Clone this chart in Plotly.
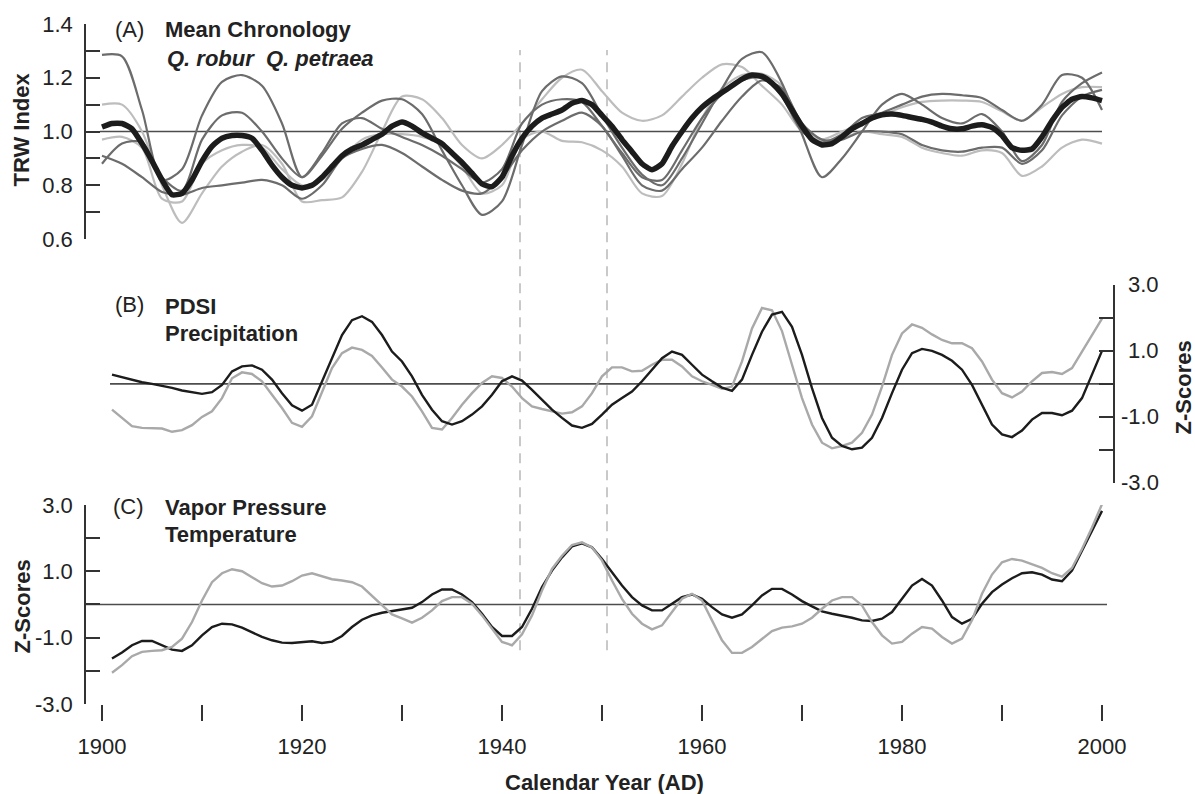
import plotly.graph_objects as go

# ---------------- DATA ----------------
years_mean = list(range(1900, 2001))
mean_chronology = [
    1.017, 1.03, 1.03, 1.01, 0.955, 0.89, 0.82, 0.765, 0.77, 0.82,
    0.89, 0.945, 0.975, 0.985, 0.985, 0.975, 0.93, 0.875, 0.83, 0.80,
    0.79, 0.80, 0.83, 0.87, 0.91, 0.935, 0.95, 0.97, 0.99, 1.02,
    1.035, 1.02, 0.995, 0.975, 0.955, 0.92, 0.885, 0.845, 0.805, 0.795,
    0.83, 0.91, 0.975, 1.02, 1.05, 1.065, 1.08, 1.105, 1.115, 1.10,
    1.06, 1.02, 0.97, 0.925, 0.88, 0.858, 0.88, 0.945, 1.0, 1.05,
    1.09, 1.12, 1.145, 1.17, 1.195, 1.21, 1.205, 1.18, 1.14, 1.08,
    1.02, 0.97, 0.95, 0.955, 0.98, 1.01, 1.03, 1.05, 1.062, 1.065,
    1.06, 1.052, 1.045, 1.035, 1.02, 1.01, 1.01, 1.02, 1.025, 1.015,
    0.985, 0.94, 0.93, 0.935, 0.98, 1.04, 1.09, 1.12, 1.13, 1.125,
    1.115,
]

years_sites = list(range(1900, 2001, 2))
site_dark_1 = [
    1.285, 1.28, 1.08, 0.82, 0.86, 1.06, 1.185, 1.21, 1.17, 1.03,
    0.83, 0.91, 1.01, 1.07, 1.115, 1.12, 1.065, 0.93, 0.80, 0.69,
    0.74, 0.95, 1.15, 1.205, 1.18, 1.06, 0.94, 0.84, 0.80, 0.90,
    1.03, 1.16, 1.27, 1.295, 1.18, 0.99, 0.83, 0.90, 1.0, 1.10,
    1.14, 1.10, 1.05, 1.03, 1.065, 1.0, 0.89, 0.95, 1.11, 1.18,
    1.22,
]
site_dark_2 = [
    0.88, 0.955, 0.96, 0.83, 0.78, 0.97, 1.06, 1.07, 1.0, 0.90,
    0.83, 0.92, 1.03, 1.05, 1.01, 0.98, 0.95, 0.91, 0.86, 0.81,
    0.86, 1.03, 1.10, 1.12, 1.11, 1.02, 0.92, 0.83, 0.82, 0.93,
    1.05, 1.14, 1.19, 1.20, 1.13, 1.0, 0.96, 0.99, 1.05, 1.07,
    1.10, 1.13, 1.14, 1.135, 1.125, 1.08, 1.04, 1.10, 1.21, 1.20,
    1.08,
]
site_dark_3 = [
    0.91, 0.88, 0.83, 0.775, 0.765, 0.79, 0.80, 0.81, 0.82, 0.80,
    0.75, 0.80, 0.90, 0.935, 0.95, 0.92, 0.87, 0.82, 0.78, 0.77,
    0.83, 0.93, 1.0, 1.04, 1.07, 1.02, 0.91, 0.80, 0.78, 0.86,
    0.94, 1.04, 1.13, 1.19, 1.16, 1.03, 0.97, 0.97, 1.0, 1.0,
    0.99, 0.95, 0.93, 0.925, 0.94, 0.94, 0.88, 0.93, 1.06, 1.13,
    1.155,
]
site_light_1 = [
    1.10, 1.10, 1.0, 0.80, 0.66, 0.77, 0.87, 0.925, 0.95, 0.88,
    0.74, 0.745, 0.755, 0.85, 1.0, 1.13, 1.12, 1.05, 0.95, 0.90,
    0.95, 1.03, 1.12, 1.20, 1.23, 1.15, 1.07, 1.04, 1.06, 1.13,
    1.20, 1.25, 1.24, 1.17, 1.10, 1.0, 0.97, 1.0, 1.03, 1.06,
    1.09, 1.11, 1.115, 1.115, 1.11, 1.075, 1.04, 1.09, 1.14, 1.165,
    1.165,
]
site_light_2 = [
    0.97, 0.98, 0.94, 0.75, 0.74, 0.88, 0.93, 0.95, 0.94, 0.86,
    0.80, 0.82, 0.90, 0.97, 0.99, 0.99, 0.98, 0.95, 0.87, 0.77,
    0.80, 0.97, 1.0, 0.965, 0.96, 0.93, 0.87, 0.77, 0.76, 0.88,
    1.05, 1.16, 1.21, 1.215, 1.17, 1.02, 0.97, 0.975, 1.0, 0.99,
    0.98, 0.94, 0.92, 0.91, 0.93, 0.92, 0.835, 0.87, 0.94, 0.97,
    0.955,
]

years_clim = list(range(1901, 2001))
pdsi = [
    0.28, 0.2, 0.13, 0.05, 0.0, -0.05, -0.12, -0.2, -0.26, -0.3,
    -0.25, -0.03, 0.38, 0.53, 0.56, 0.43, 0.13, -0.28, -0.65, -0.81,
    -0.63, 0.08, 0.78, 1.48, 1.93, 2.05, 1.88, 1.48, 0.98, 0.68,
    0.23, -0.33, -0.78, -1.13, -1.23, -1.13, -0.93, -0.68, -0.33, 0.08,
    0.23, 0.1, -0.18, -0.48, -0.78, -1.03, -1.26, -1.33, -1.21, -0.93,
    -0.63, -0.43, -0.23, 0.08, 0.43, 0.78, 0.98, 0.88, 0.58, 0.28,
    0.08, -0.11, -0.21, 0.13, 0.88, 1.58, 2.1, 2.18, 1.73, 0.88,
    -0.13, -1.03, -1.63, -1.88, -1.98, -1.93, -1.63, -1.03, -0.28, 0.43,
    0.93, 1.06, 1.0, 0.88, 0.7, 0.43, -0.03, -0.63, -1.23, -1.53,
    -1.61, -1.41, -1.08, -0.88, -0.88, -0.95, -0.81, -0.43, 0.28, 1.0,
]
precipitation = [
    -0.78, -1.03, -1.28, -1.33, -1.34, -1.35, -1.45, -1.4, -1.25, -1.0,
    -0.83, -0.43, 0.17, 0.35, 0.3, 0.08, -0.33, -0.73, -1.18, -1.3,
    -0.98, -0.23, 0.48, 0.93, 1.1, 1.03, 0.85, 0.5, 0.13, -0.08,
    -0.38, -0.83, -1.33, -1.38, -1.03, -0.63, -0.28, 0.03, 0.23, 0.18,
    -0.08, -0.43, -0.68, -0.76, -0.83, -0.9, -0.86, -0.68, -0.28, 0.23,
    0.5, 0.5, 0.38, 0.4, 0.58, 0.73, 0.73, 0.53, 0.23, 0.08,
    -0.03, -0.15, -0.08, 0.68, 1.68, 2.3, 2.23, 1.6, 0.58, -0.43,
    -1.23, -1.78, -1.95, -1.88, -1.78, -1.48, -0.93, -0.08, 0.88, 1.53,
    1.8, 1.7, 1.5, 1.33, 1.23, 1.23, 1.08, 0.68, 0.13, -0.28,
    -0.41, -0.23, 0.08, 0.33, 0.36, 0.3, 0.48, 0.98, 1.48, 1.98,
]
vapor_pressure = [
    -1.63, -1.45, -1.23, -1.1, -1.1, -1.23, -1.36, -1.4, -1.23, -0.93,
    -0.68, -0.58, -0.6, -0.7, -0.85, -0.98, -1.08, -1.15, -1.16, -1.13,
    -1.11, -1.16, -1.12, -0.95, -0.68, -0.46, -0.33, -0.25, -0.2, -0.17,
    -0.1, 0.07, 0.3, 0.45, 0.45, 0.3, 0.07, -0.28, -0.68, -0.95,
    -0.95, -0.68, -0.13, 0.52, 1.02, 1.42, 1.75, 1.84, 1.72, 1.37,
    0.97, 0.57, 0.22, -0.03, -0.18, -0.18, 0.02, 0.22, 0.3, 0.17,
    -0.08, -0.3, -0.4, -0.3, -0.03, 0.27, 0.47, 0.47, 0.3, 0.1,
    -0.06, -0.21, -0.28, -0.33, -0.4, -0.48, -0.5, -0.43, -0.23, 0.17,
    0.57, 0.77, 0.57, 0.12, -0.38, -0.58, -0.43, 0.02, 0.37, 0.6,
    0.79, 0.94, 0.97, 0.9, 0.75, 0.7, 1.02, 1.62, 2.22, 2.82,
]
temperature = [
    -2.06, -1.83, -1.56, -1.43, -1.4, -1.38, -1.28, -1.03, -0.53, 0.12,
    0.67, 0.94, 1.06, 1.0, 0.82, 0.64, 0.54, 0.57, 0.7, 0.87,
    0.94, 0.84, 0.76, 0.72, 0.67, 0.54, 0.27, -0.03, -0.3, -0.42,
    -0.55, -0.4, -0.18, 0.1, 0.22, 0.22, 0.02, -0.33, -0.73, -1.13,
    -1.23, -0.9, -0.33, 0.42, 1.07, 1.47, 1.79, 1.87, 1.72, 1.32,
    0.72, 0.17, -0.28, -0.58, -0.75, -0.63, -0.23, 0.17, 0.32, 0.12,
    -0.48, -1.08, -1.46, -1.46, -1.28, -1.03, -0.8, -0.7, -0.66, -0.58,
    -0.4, -0.13, 0.12, 0.22, 0.22, -0.03, -0.53, -0.93, -1.18, -1.13,
    -0.88, -0.68, -0.73, -0.98, -1.18, -1.03, -0.48, 0.32, 0.9, 1.27,
    1.37, 1.32, 1.22, 1.1, 0.94, 0.84, 1.1, 1.67, 2.32, 3.02,
]

x_ticks = list(range(1900, 2001, 10))
x_ticklabels = ["1900", "", "1920", "", "1940", "", "1960", "", "1980", "", "2000"]
trw_ticks = [0.6, 0.7, 0.8, 0.9, 1.0, 1.1, 1.2, 1.3, 1.4]
trw_labels = ["0.6", "", "0.8", "", "1.0", "", "1.2", "", "1.4"]
z_ticks = [-3, -2, -1, 0, 1, 2, 3]
z_labels = ["-3.0", "", "-1.0", "", "1.0", "", "3.0"]
event_years = [1941.8, 1950.5]

# ---------------- LAYOUT GEOMETRY ----------------
W, H = 1195, 794
ML, MR, MT, MB = 86, 82, 21, 90
PW, PH = W - ML - MR, H - MT - MB
BOTTOM = H - MB


def fx(px):
    return (px - ML) / PW


def fy(py):
    return (BOTTOM - py) / PH


FONT = "Liberation Sans, Arial, sans-serif"
TXT = "#222222"
DARK = "#6c6c6c"
LIGHT = "#bdbdbd"
BLACK = "#1c1c1c"
GREY_B = "#a9a9a9"
AXC = "#333333"
FS = 22

fig = go.Figure()

# Panel A
for series, col in [(site_light_1, LIGHT), (site_light_2, LIGHT),
                    (site_dark_1, DARK), (site_dark_2, DARK), (site_dark_3, DARK)]:
    fig.add_trace(go.Scatter(x=years_sites, y=series, mode="lines",
                             line=dict(color=col, width=2.2, shape="spline", smoothing=0.8),
                             xaxis="x", yaxis="y", hoverinfo="skip"))
fig.add_trace(go.Scatter(x=years_mean, y=mean_chronology, mode="lines",
                         line=dict(color=BLACK, width=5.5, shape="spline", smoothing=0.5),
                         xaxis="x", yaxis="y", hoverinfo="skip"))

# Panel B
fig.add_trace(go.Scatter(x=years_clim, y=precipitation, mode="lines",
                         line=dict(color=GREY_B, width=2.4), xaxis="x", yaxis="y2", hoverinfo="skip"))
fig.add_trace(go.Scatter(x=years_clim, y=pdsi, mode="lines",
                         line=dict(color=BLACK, width=2.4), xaxis="x", yaxis="y2", hoverinfo="skip"))

# Panel C
fig.add_trace(go.Scatter(x=years_clim, y=vapor_pressure, mode="lines",
                         line=dict(color=BLACK, width=2.4), xaxis="x", yaxis="y3", hoverinfo="skip"))
fig.add_trace(go.Scatter(x=years_clim, y=temperature, mode="lines",
                         line=dict(color=GREY_B, width=2.4), xaxis="x", yaxis="y3", hoverinfo="skip"))

tickfont = dict(family=FONT, size=FS, color=TXT)

fig.update_layout(
    width=W, height=H,
    margin=dict(l=ML, r=MR, t=MT, b=MB, pad=0),
    paper_bgcolor="white", plot_bgcolor="white",
    showlegend=False,
    xaxis=dict(domain=[0, 1], range=[1898.4, 2001.1], anchor="y3",
               tickmode="array", tickvals=x_ticks, ticktext=x_ticklabels,
               ticks="outside", ticklen=16, tickwidth=1.6, tickcolor=AXC,
               showline=False, showgrid=False, zeroline=False,
               tickfont=tickfont, ticklabelstandoff=7),
    yaxis=dict(domain=[fy(237), fy(21)], range=[0.6, 1.4], anchor="x", side="left",
               tickmode="array", tickvals=trw_ticks, ticktext=trw_labels,
               ticks="inside", ticklen=14, tickwidth=1.6, tickcolor=AXC,
               showline=True, linecolor=AXC, linewidth=1.6,
               showgrid=False, zeroline=False, tickfont=tickfont, ticklabelstandoff=7),
    yaxis2=dict(domain=[fy(482), fy(283)], range=[-3, 3], anchor="x", side="right",
                tickmode="array", tickvals=z_ticks, ticktext=[""] * 7,
                ticks="inside", ticklen=14, tickwidth=1.6, tickcolor=AXC,
                showline=True, linecolor=AXC, linewidth=1.6,
                showgrid=False, zeroline=False, tickfont=tickfont),
    yaxis3=dict(domain=[fy(704), fy(504)], range=[-3, 3], anchor="x", side="left",
                tickmode="array", tickvals=z_ticks, ticktext=z_labels,
                ticks="inside", ticklen=14, tickwidth=1.6, tickcolor=AXC,
                showline=True, linecolor=AXC, linewidth=1.6,
                showgrid=False, zeroline=False, tickfont=tickfont, ticklabelstandoff=7),
)

# reference lines
shapes = [
    dict(type="line", xref="x", yref="y", x0=1899.8, x1=2000.0, y0=1.0, y1=1.0,
         line=dict(color="#4d4d4d", width=1.6), layer="below"),
    dict(type="line", xref="x", yref="y2", x0=1900.8, x1=2001.1, y0=0, y1=0,
         line=dict(color="#4d4d4d", width=1.6), layer="below"),
    dict(type="line", xref="x", yref="y3", x0=1898.4, x1=2000.5, y0=0, y1=0,
         line=dict(color="#4d4d4d", width=1.6), layer="below"),
]
for ev in event_years:
    shapes.append(dict(type="line", xref="x", yref="paper", x0=ev, x1=ev,
                       y0=fy(650), y1=fy(47),
                       line=dict(color="#bcbcbc", width=1.6, dash="10px,7px"), layer="below"))
fig.update_layout(shapes=shapes)

ann = []


def text(x, y, s, size=FS, bold=False, italic=False, xanchor="left", yanchor="middle",
         angle=0, xref="paper", yref="paper"):
    if italic:
        s = "<i>" + s + "</i>"
    if bold:
        s = "<b>" + s + "</b>"
    ann.append(dict(x=x, y=y, xref=xref, yref=yref, text=s, showarrow=False,
                    xanchor=xanchor, yanchor=yanchor, textangle=angle,
                    font=dict(family=FONT, size=size, color=TXT)))


text(fx(113), fy(27), "(A)")
text(fx(163), fy(27), "Mean Chronology", bold=True)
text(fx(165), fy(56), "Q. robur\u00a0\u00a0Q. petraea", bold=True, italic=True)
text(fx(113), fy(303), "(B)")
text(fx(163), fy(305), "PDSI", bold=True)
text(fx(163), fy(332), "Precipitation", bold=True)
text(fx(111), fy(506), "(C)")
text(fx(163), fy(507), "Vapor Pressure", bold=True)
text(fx(163), fy(534), "Temperature", bold=True)

text(fx(22), fy(127), "TRW Index", bold=True, xanchor="center", angle=-90)
text(fx(22), fy(606), "Z-Scores", bold=True, xanchor="center", angle=-90)
text(fx(1183), fy(386), "Z-Scores", bold=True, xanchor="center", angle=-90)
text(fx(604), fy(783), "Calendar Year (AD)", bold=True, xanchor="center")

# right-axis tick labels for panel B (right aligned)
for v, lab in zip(z_ticks, z_labels):
    if lab:
        text(fx(1161), v, lab, xanchor="right", yref="y2")

fig.update_layout(annotations=ann)

fig.write_html("out.html")
